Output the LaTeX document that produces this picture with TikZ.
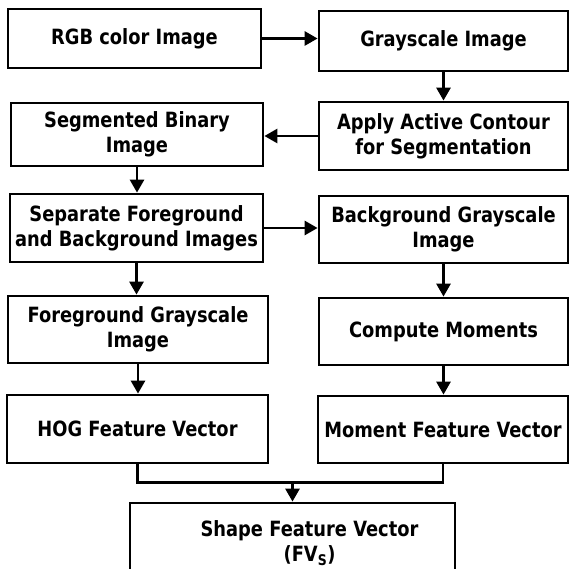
\documentclass[tikz,border=0pt]{standalone}
\usepackage{fontspec}
\newfontfamily\flowfont[FakeStretch=0.85]{DejaVu Sans}
\usetikzlibrary{arrows.meta}

\begin{document}
\begin{tikzpicture}
        [x=1pt, y=-1pt,
          stage/.style={
            draw,
            line width=2.8pt,
            align=center,
            inner sep=0pt,
            font=\flowfont\bfseries\fontsize{21}{25}\selectfont},
          flow/.style={
            line width=2.8pt,
            -{Triangle[length=13pt,width=14pt]}}]
        \useasboundingbox (0,0) rectangle (569,569);
        \node[stage, minimum width=253pt, minimum height=59pt] (rgb) at (134.5,38.5) {RGB color Image};
        \node[stage, minimum width=249pt, minimum height=60pt] (gray) at (443.5,41) {Grayscale Image};
        \node[stage, minimum width=252pt, minimum height=63pt] (seg) at (137,134.5) {Segmented Binary\\Image};
        \node[stage, minimum width=249pt, minimum height=68pt] (apply) at (443.5,136) {Apply Active Contour\\for Segmentation};
        \node[stage, minimum width=253pt, minimum height=68pt] (sep) at (136.5,228) {Separate Foreground\\and Background Images};
        \node[stage, minimum width=249pt, minimum height=67pt] (bg) at (443.5,229.5) {Background Grayscale\\Image};
        \node[stage, minimum width=260pt, minimum height=67pt] (fg) at (138,329.5) {Foreground Grayscale\\Image};
        \node[stage, minimum width=249pt, minimum height=67pt] (mom) at (443.5,331.5) {Compute Moments};
        \node[stage, minimum width=261pt, minimum height=68pt] (hog) at (137.5,429) {HOG Feature Vector};
        \node[stage, minimum width=250pt, minimum height=67pt] (mvec) at (443,429.5) {Moment Feature Vector};
        \node[stage, minimum width=325pt, minimum height=80pt] (shape) at (292.5,543)
          {\hspace*{34pt}Shape Feature Vector\\\hspace*{34pt}(FV\textsubscript{S})};

        \draw[flow] (rgb.east) -- (rgb.east -| gray.west);
        \draw[flow] (gray.south) -- (gray.south |- apply.north);
        \draw[flow] (apply.west) -- (apply.west -| seg.east);
        \draw[flow] (seg.south) -- (seg.south |- sep.north);
        \draw[flow] (sep.east) -- (sep.east -| bg.west);
        \draw[flow] (sep.south) -- (sep.south |- fg.north);
        \draw[flow] (bg.south) -- (bg.south |- mom.north);
        \draw[flow] (fg.south) -- (fg.south |- hog.north);
        \draw[flow] (mom.south) -- (mom.south |- mvec.north);
        \draw[line width=2.8pt] (hog.south) -- ++(0,18) coordinate (join) -| (mvec.south);
        \draw[flow] (shape.north |- join) -- (shape.north);
\end{tikzpicture}
\end{document}
